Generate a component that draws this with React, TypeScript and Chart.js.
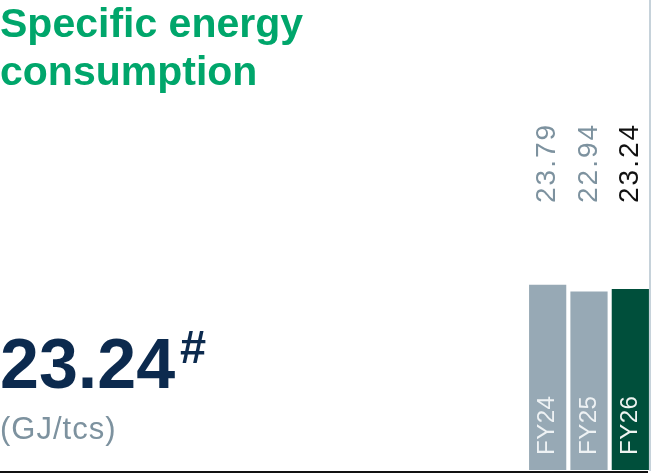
import React, { useEffect, useRef } from "react";
import { Chart, registerables } from "chart.js";

Chart.register(...registerables);

const titleLines = ["Specific energy", "consumption"];
const headlineValue = "23.24";
const headlineMark = "#";
const unitLabel = "(GJ/tcs)";

const categories = ["FY24", "FY25", "FY26"];
const values = [23.79, 22.94, 23.24];
const barColors = ["#97a9b5", "#97a9b5", "#004f3b"];
const valueLabelColors = ["#7d929f", "#7d929f", "#111111"];
const categoryLabelColors = ["#eef2f4", "#eef2f4", "#eef4f1"];

const FONT = "'Liberation Sans', Arial, sans-serif";

const barLabelPlugin = {
  id: "barLabels",
  afterDatasetsDraw(chart: any) {
    const { ctx, chartArea } = chart;
    const meta = chart.getDatasetMeta(0);
    const yZero = chart.scales.y.getPixelForValue(0);
    ctx.save();
    // right border line
    ctx.fillStyle = "#c6d2da";
    ctx.fillRect(chartArea.right - 2, 0, 2, yZero + 1);
    // baseline
    ctx.fillStyle = "#111111";
    ctx.fillRect(0, yZero + 1, chartArea.right - 3, 2);
    meta.data.forEach((bar: any, i: number) => {
      // value label (rotated)
      ctx.save();
      ctx.translate(bar.x, chartArea.top + 200);
      ctx.rotate(-Math.PI / 2);
      ctx.font = `28px ${FONT}`;
      (ctx as any).letterSpacing = "2px";
      ctx.fillStyle = valueLabelColors[i];
      ctx.textAlign = "left";
      ctx.textBaseline = "middle";
      ctx.fillText(String(values[i].toFixed(2)), 0, 0);
      ctx.restore();
      // category label inside bar
      ctx.save();
      ctx.translate(bar.x, yZero - 15);
      ctx.rotate(-Math.PI / 2);
      ctx.font = `24px ${FONT}`;
      (ctx as any).letterSpacing = "0.5px";
      ctx.fillStyle = categoryLabelColors[i];
      ctx.textAlign = "left";
      ctx.textBaseline = "middle";
      ctx.fillText(categories[i], 0, 0);
      ctx.restore();
    });
    ctx.restore();
  },
};

export default function App() {
  const canvasRef = useRef<HTMLCanvasElement | null>(null);

  useEffect(() => {
    document.body.style.margin = "0";
    const canvas = canvasRef.current;
    if (!canvas) return;
    const chart = new Chart(canvas, {
      type: "bar",
      data: {
        labels: categories,
        datasets: [
          {
            data: values,
            backgroundColor: barColors,
            borderWidth: 0,
            barPercentage: 0.9,
            categoryPercentage: 1,
          },
        ],
      },
      options: {
        responsive: false,
        animation: false,
        devicePixelRatio: 1,
        layout: { padding: { left: 527, right: 0, top: 3, bottom: 3 } },
        scales: {
          x: { display: false },
          y: { display: false, min: 0, max: 60 },
        },
        plugins: {
          legend: { display: false },
          tooltip: { enabled: false },
          title: { display: false },
        },
      },
      plugins: [barLabelPlugin],
    });
    return () => chart.destroy();
  }, []);

  return (
    <div style={{ position: "relative", width: 651, height: 473, background: "#ffffff", overflow: "hidden", fontFamily: FONT }}>
      <canvas ref={canvasRef} width={651} height={473} style={{ position: "absolute", left: 0, top: 0 }} />
      <div
        style={{
          position: "absolute",
          left: 0,
          top: -1,
          fontSize: 41,
          lineHeight: "48px",
          fontWeight: 700,
          color: "#00a66b",
          whiteSpace: "nowrap",
        }}
      >
        {titleLines.map((l) => (
          <div key={l}>{l}</div>
        ))}
      </div>
      <div
        style={{
          position: "absolute",
          left: 0,
          top: 329,
          fontSize: 70,
          lineHeight: "70px",
          fontWeight: 700,
          color: "#0c2a4e",
          whiteSpace: "nowrap",
        }}
      >
        {headlineValue}
      </div>
      <div
        style={{
          position: "absolute",
          left: 180,
          top: 323,
          fontSize: 47,
          lineHeight: "47px",
          fontWeight: 700,
          color: "#0c2a4e",
        }}
      >
        {headlineMark}
      </div>
      <div
        style={{
          position: "absolute",
          left: 0,
          top: 413,
          fontSize: 31,
          lineHeight: "31px",
          letterSpacing: 1,
          color: "#7d929f",
          whiteSpace: "nowrap",
        }}
      >
        {unitLabel}
      </div>
    </div>
  );
}
